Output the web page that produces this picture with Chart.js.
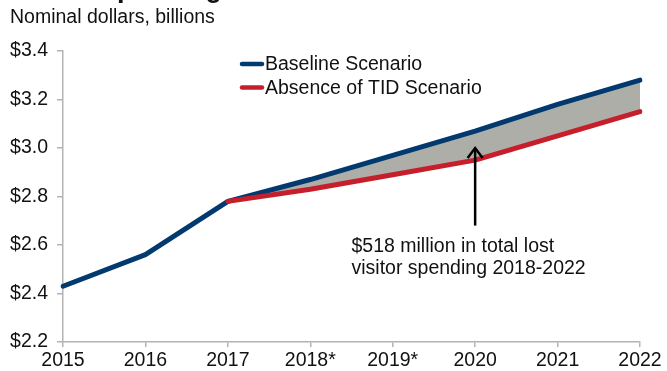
<!DOCTYPE html>
<html>
<head>
<meta charset="utf-8">
<title>Visitor Spending</title>
<script src="https://cdn.jsdelivr.net/npm/chart.js@4.4.1/dist/chart.umd.min.js"></script>
<style>
  html, body { margin: 0; padding: 0; background: #fff; }
  #wrap { width: 667px; height: 371px; position: relative; }
</style>
</head>
<body>
<div id="wrap"><canvas id="chart" width="667" height="371"></canvas></div>
<script>
// Visitor spending, nominal dollars (billions)
const years = ['2015', '2016', '2017', '2018*', '2019*', '2020', '2021', '2022'];
const baselineScenario = [2.43, 2.56, 2.78, 2.87, 2.97, 3.07, 3.18, 3.28];
const absenceScenario = [null, null, 2.78, 2.83, 2.89, 2.95, 3.05, 3.15];
const seriesNames = ['Baseline Scenario', 'Absence of TID Scenario'];
const yTicks = [2.2, 2.4, 2.6, 2.8, 3.0, 3.2, 3.4];

const titleText = 'Visitor Spending';
const subtitleText = 'Nominal dollars, billions';
const noteLines = ['$518 million in total lost', 'visitor spending 2018-2022'];
// Arrow: category index and value range it spans
const arrowAt = 5;
const arrowFrom = 2.68;
const arrowTo = 3.0;

const FONT = "'Liberation Sans', Arial, sans-serif";
const SIZE = 19.5;
const BLUE = '#023a6f';
const RED = '#c61f2b';
const GAP = '#aeaea9';
const AXIS = '#b3b3b3';
const TEXT = '#111111';

const overlay = {
  id: 'overlay',
  afterDatasetsDraw(chart) {
    const ctx = chart.ctx;
    const x = chart.scales.x, y = chart.scales.y;
    ctx.save();

    // heading (mostly above the canvas edge) and subtitle
    ctx.fillStyle = TEXT;
    ctx.textAlign = 'left';
    ctx.textBaseline = 'alphabetic';
    ctx.font = 'bold 27px ' + FONT;
    ctx.fillText(titleText, 8, -3);
    ctx.textBaseline = 'middle';
    ctx.font = SIZE + 'px ' + FONT;
    ctx.fillText(subtitleText, 10, 17.5);

    // legend
    const colors = [BLUE, RED];
    chart.data.datasets.forEach((ds, i) => {
      const cy = 64 + i * 23.5;
      ctx.strokeStyle = colors[i];
      ctx.lineWidth = 4.5;
      ctx.lineCap = 'round';
      ctx.beginPath();
      ctx.moveTo(242, cy);
      ctx.lineTo(262, cy);
      ctx.stroke();
      ctx.fillStyle = TEXT;
      ctx.font = SIZE + 'px ' + FONT;
      ctx.fillText(ds.label, 265, cy + 1);
    });

    // arrow
    const ax = x.getPixelForValue(arrowAt);
    const yb = y.getPixelForValue(arrowFrom);
    const yt = y.getPixelForValue(arrowTo);
    ctx.strokeStyle = '#000';
    ctx.lineWidth = 2.5;
    ctx.lineCap = 'butt';
    ctx.lineJoin = 'miter';
    ctx.beginPath();
    ctx.moveTo(ax, yb);
    ctx.lineTo(ax, yt + 1);
    ctx.stroke();
    ctx.beginPath();
    ctx.moveTo(ax - 7.5, yt + 10);
    ctx.lineTo(ax, yt);
    ctx.lineTo(ax + 7.5, yt + 10);
    ctx.stroke();

    // note under the arrow
    const nx = x.getPixelForValue(3.5);
    ctx.fillStyle = TEXT;
    ctx.font = SIZE + 'px ' + FONT;
    noteLines.forEach((line, i) => {
      ctx.fillText(line, nx, y.getPixelForValue(2.6) + i * 21.5 + 2);
    });

    ctx.restore();
  }
};

new Chart(document.getElementById('chart'), {
  type: 'line',
  data: {
    labels: years,
    datasets: [
      {
        label: seriesNames[0],
        data: baselineScenario,
        borderColor: BLUE,
        backgroundColor: BLUE,
        borderWidth: 5,
        borderCapStyle: 'round',
        borderJoinStyle: 'round',
        pointRadius: 0,
        tension: 0,
        fill: false,
        order: 1
      },
      {
        label: seriesNames[1],
        data: absenceScenario,
        borderColor: RED,
        backgroundColor: GAP,
        borderWidth: 5,
        borderCapStyle: 'round',
        borderJoinStyle: 'round',
        pointRadius: 0,
        tension: 0,
        fill: { target: 0 },
        order: 0
      }
    ]
  },
  options: {
    responsive: false,
    animation: false,
    layout: { padding: { left: 0, right: 27, top: 51, bottom: 0 } },
    plugins: {
      legend: { display: false },
      tooltip: { enabled: false },
      filler: { drawTime: 'beforeDatasetsDraw' }
    },
    scales: {
      x: {
        type: 'category',
        offset: false,
        border: { display: true, color: AXIS, width: 1.5 },
        grid: { display: true, drawOnChartArea: false, drawTicks: true, tickLength: 5, color: AXIS, lineWidth: 1.5 },
        ticks: { color: TEXT, font: { family: FONT, size: SIZE }, padding: 2, maxRotation: 0, autoSkip: false },
        afterFit(scale) { scale.height = 29; }
      },
      y: {
        min: 2.2,
        max: 3.4,
        border: { display: true, color: AXIS, width: 1.5 },
        grid: { display: true, drawOnChartArea: false, drawTicks: true, tickLength: 6, color: AXIS, lineWidth: 1.5 },
        afterBuildTicks(scale) { scale.ticks = yTicks.map(v => ({ value: v })); },
        ticks: {
          color: TEXT,
          font: { family: FONT, size: SIZE },
          padding: 9,
          callback: v => '$' + Number(v).toFixed(1)
        },
        afterFit(scale) { scale.width = 63; }
      }
    }
  },
  plugins: [overlay]
});
</script>
</body>
</html>
